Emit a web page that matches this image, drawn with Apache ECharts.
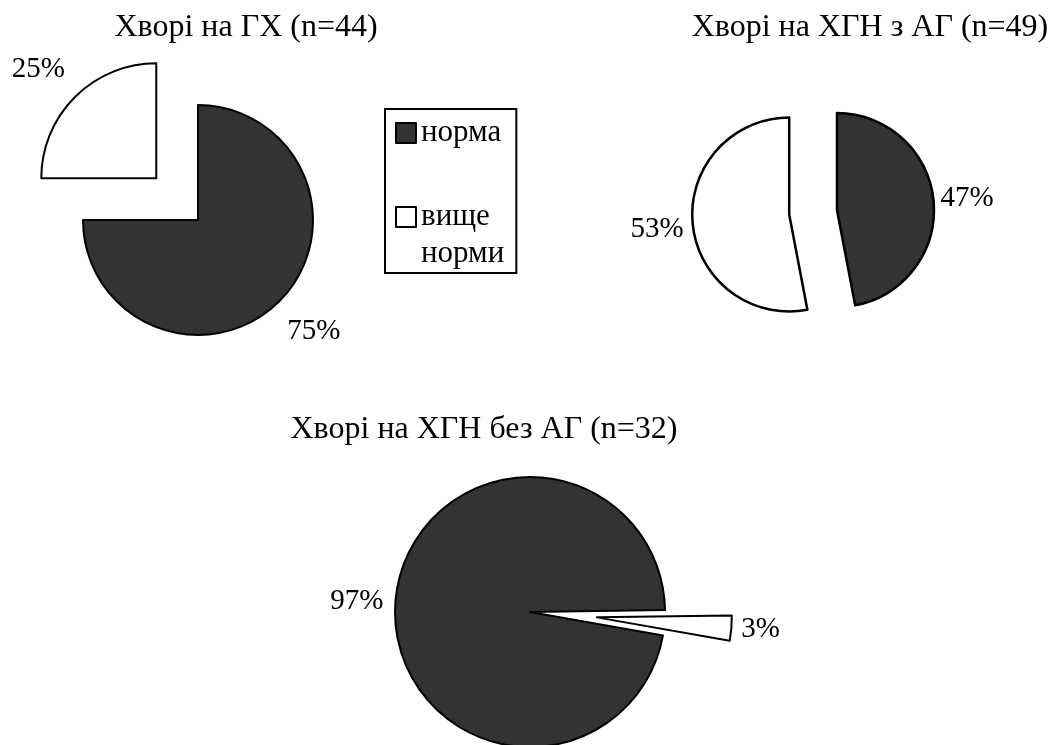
<!DOCTYPE html>
<html>
<head>
<meta charset="utf-8">
<script src="https://cdn.jsdelivr.net/npm/echarts@6/dist/echarts.min.js"></script>
<style>
  html, body { margin: 0; padding: 0; background: #ffffff; }
  #chart { width: 1057px; height: 745px; }
</style>
</head>
<body>
<div id="chart"></div>
<script>
// Categories shared by all three pies (legend order)
const categories = ['норма', 'вище норми'];

// Pie titles
const titles = [
  'Хворі на ГХ (n=44)',
  'Хворі на ХГН з АГ (n=49)',
  'Хворі на ХГН без АГ (n=32)'
];

// Percentages per group: [норма, вище норми]
const valuesGH = [75, 25];
const valuesKhGNzAG = [47, 53];
const valuesKhGNbezAG = [97, 3];

// ---- styling / layout ----
const FONT = '"Liberation Serif", "Times New Roman", serif';
const TITLE_SIZE = 32;
const LEGEND_SIZE = 31;
const LABEL_SIZE = 29;
const FILLS = ['#333333', '#ffffff'];

// Each pie: position, size, rotation, explosion of each slice, border, label nudges
const pies = [
  { values: valuesGH, title: titles[0], center: [198, 220], radius: 115, startAngle: 90,
    explode: [0, 59], border: 2, titleAt: [246, 12], labelShift: [[3, 30], [-5, -28]] },
  { values: valuesKhGNzAG, title: titles[1], center: [837, 210], radius: 97, startAngle: 90,
    explode: [0, 48], border: 2.5, titleAt: [870, 12], labelShift: [[2, -2], [-4, 6]] },
  { values: valuesKhGNbezAG, title: titles[2], center: [530, 612], radius: 135, startAngle: -10,
    explode: [0, 67], border: 2, titleAt: [484, 414], labelShift: [[-7, 0], [5, 1]] }
];

const series = [];
pies.forEach(function (p) {
  const total = p.values.reduce(function (a, b) { return a + b; }, 0);
  let cum = 0;
  p.values.forEach(function (v, i) {
    // mid-angle of this slice (clockwise from startAngle), used to pull it out
    const mid = (p.startAngle - 360 * (cum + v / 2) / total) * Math.PI / 180;
    cum += v;
    const ox = p.explode[i] * Math.cos(mid);
    const oy = -p.explode[i] * Math.sin(mid);
    series.push({
      type: 'pie',
      center: [p.center[0] + ox, p.center[1] + oy],
      radius: p.radius,
      startAngle: p.startAngle,
      clockwise: true,
      avoidLabelOverlap: false,
      silent: true,
      emphasis: { disabled: true },
      label: {
        show: true,
        position: 'outside',
        formatter: '{c}%',
        fontFamily: FONT,
        fontSize: LABEL_SIZE,
        color: '#000000'
      },
      labelLine: { show: false, length: 0, length2: 0 },
      labelLayout: { dx: p.labelShift[i][0], dy: p.labelShift[i][1] },
      data: p.values.map(function (val, j) {
        return {
          name: categories[j],
          value: val,
          itemStyle: j === i
            ? { color: FILLS[j], borderColor: '#000000', borderWidth: p.border }
            : { color: 'rgba(0,0,0,0)', borderWidth: 0 },
          label: { show: j === i }
        };
      })
    });
  });
});

const chart = echarts.init(document.getElementById('chart'), null, { renderer: 'canvas' });
chart.setOption({
  animation: false,
  backgroundColor: '#ffffff',
  title: pies.map(function (p) {
    return {
      text: p.title,
      left: p.titleAt[0],
      top: p.titleAt[1],
      textAlign: 'center',
      padding: 0,
      textStyle: { fontFamily: FONT, fontSize: TITLE_SIZE, fontWeight: 'normal', color: '#000000' }
    };
  }),
  legend: {
    orient: 'vertical',
    left: 385,
    top: 109,
    padding: [5.5, 12, 0.5, 10],
    itemGap: 10,
    itemWidth: 20,
    itemHeight: 20,
    icon: 'rect',
    borderColor: '#000000',
    borderWidth: 2,
    selectedMode: false,
    // two-word names wrap under the first word, which stays level with the swatch
    formatter: function (name) {
      return name.indexOf(' ') >= 0 ? '\n' + name.replace(' ', '\n') : name;
    },
    textStyle: { fontFamily: FONT, fontSize: LEGEND_SIZE, color: '#000000', lineHeight: 37 },
    data: [
      { name: categories[0], itemStyle: { color: FILLS[0], borderColor: '#000000', borderWidth: 2 } },
      { name: categories[1], itemStyle: { color: FILLS[1], borderColor: '#000000', borderWidth: 2 } }
    ]
  },
  series: series
});
</script>
</body>
</html>
